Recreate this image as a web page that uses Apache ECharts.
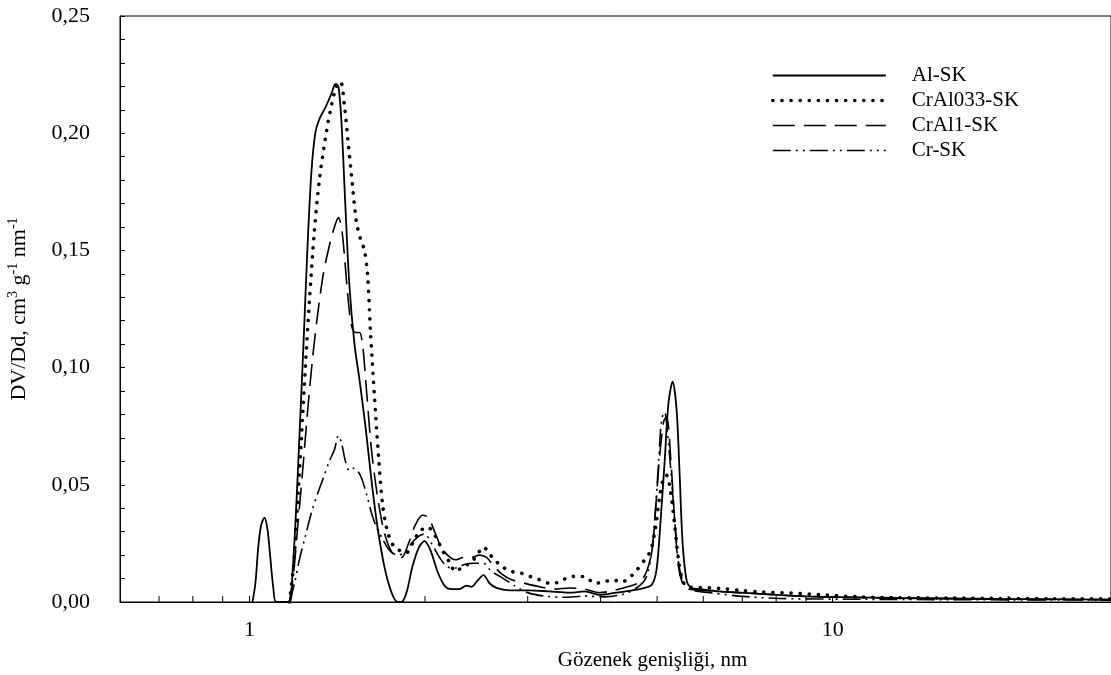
<!DOCTYPE html>
<html>
<head>
<meta charset="utf-8">
<script src="https://cdn.jsdelivr.net/npm/echarts@6/dist/echarts.min.js"></script>
<style>
  html, body { margin: 0; padding: 0; background: #fff; }
  #chart { width: 1111px; height: 675px; }
</style>
</head>
<body>
<div id="chart"></div>
<script>
// gözenek boyut dağılımı, [nm, DV/Dd]
const alSk = [
  [1.012, 0], [1.024, 0.008], [1.036, 0.024], [1.048, 0.033], [1.061, 0.036], [1.074, 0.031],
  [1.086, 0.019], [1.099, 0.006], [1.112, 0], [1.171, 0], [1.185, 0.012], [1.200, 0.035],
  [1.218, 0.070], [1.238, 0.110], [1.257, 0.150], [1.277, 0.183], [1.297, 0.200], [1.318, 0.206],
  [1.350, 0.211], [1.383, 0.217], [1.405, 0.221], [1.421, 0.220], [1.438, 0.205], [1.460, 0.170],
  [1.484, 0.135], [1.514, 0.110], [1.544, 0.095], [1.581, 0.075], [1.619, 0.052], [1.658, 0.032],
  [1.704, 0.015], [1.753, 0.004], [1.795, 0], [1.823, 0], [1.859, 0.004], [1.903, 0.015],
  [1.950, 0.023], [1.996, 0.026], [2.044, 0.022], [2.101, 0.013], [2.160, 0.007], [2.221, 0.0055],
  [2.292, 0.0055], [2.355, 0.007], [2.401, 0.0065], [2.458, 0.009], [2.520, 0.0115], [2.580, 0.008],
  [2.652, 0.006], [2.792, 0.005], [3.022, 0.005], [3.270, 0.0045], [3.539, 0.004], [3.755, 0.0045],
  [3.984, 0.003], [4.261, 0.004], [4.534, 0.005], [4.761, 0.006], [4.900, 0.0075], [4.990, 0.014],
  [5.070, 0.035], [5.151, 0.060], [5.230, 0.085], [5.316, 0.094], [5.400, 0.082], [5.464, 0.055],
  [5.530, 0.025], [5.620, 0.009], [5.730, 0.006], [5.914, 0.0055], [6.400, 0.0045], [6.926, 0.004],
  [7.496, 0.0035], [8.778, 0.0025], [10.69, 0.002], [13.03, 0.0017], [15.88, 0.0015], [19.34, 0.0013],
  [23.56, 0.0012], [30, 0.001]
];
const crAl033Sk = [
  [1.171, 0], [1.190, 0.015], [1.208, 0.040], [1.228, 0.070], [1.247, 0.100], [1.267, 0.128],
  [1.292, 0.158], [1.318, 0.180], [1.350, 0.198], [1.383, 0.212], [1.410, 0.220], [1.433, 0.222],
  [1.455, 0.212], [1.478, 0.195], [1.502, 0.178], [1.526, 0.162], [1.550, 0.155], [1.575, 0.150],
  [1.594, 0.140], [1.613, 0.115], [1.638, 0.088], [1.665, 0.062], [1.691, 0.042], [1.725, 0.030],
  [1.766, 0.024], [1.809, 0.022], [1.859, 0.021], [1.904, 0.025], [1.957, 0.030], [2.020, 0.032],
  [2.085, 0.028], [2.143, 0.022], [2.203, 0.017], [2.256, 0.013], [2.320, 0.015], [2.403, 0.017],
  [2.470, 0.021], [2.520, 0.0235], [2.570, 0.021], [2.632, 0.018], [2.716, 0.015], [2.815, 0.013],
  [2.905, 0.0125], [3.022, 0.011], [3.143, 0.0095], [3.270, 0.008], [3.402, 0.0085], [3.511, 0.0105],
  [3.652, 0.011], [3.785, 0.0105], [3.906, 0.008], [4.049, 0.0085], [4.196, 0.0095], [4.346, 0.0085],
  [4.485, 0.0105], [4.611, 0.0135], [4.761, 0.018], [4.875, 0.022], [4.971, 0.032], [5.050, 0.045],
  [5.131, 0.053], [5.192, 0.054], [5.274, 0.047], [5.358, 0.033], [5.442, 0.018], [5.530, 0.009],
  [5.640, 0.0065], [5.914, 0.0062], [6.400, 0.0058], [6.926, 0.005], [7.496, 0.0043], [8.44, 0.0038],
  [9.69, 0.003], [11.1, 0.0022], [13.03, 0.0018], [15.88, 0.0017], [19.34, 0.0015], [23.56, 0.0014],
  [30, 0.0013]
];
const crAl1Sk = [
  [1.171, 0], [1.190, 0.012], [1.208, 0.030], [1.233, 0.055], [1.257, 0.080], [1.282, 0.103],
  [1.308, 0.122], [1.339, 0.140], [1.371, 0.152], [1.399, 0.160], [1.421, 0.164], [1.438, 0.160],
  [1.455, 0.148], [1.473, 0.132], [1.496, 0.118], [1.520, 0.115], [1.544, 0.115], [1.563, 0.110],
  [1.588, 0.090], [1.619, 0.065], [1.658, 0.045], [1.698, 0.031], [1.739, 0.023], [1.780, 0.0195],
  [1.823, 0.019], [1.874, 0.025], [1.926, 0.033], [1.981, 0.037], [2.028, 0.036], [2.077, 0.030],
  [2.127, 0.024], [2.186, 0.020], [2.256, 0.018], [2.328, 0.019], [2.403, 0.019], [2.480, 0.020],
  [2.550, 0.019], [2.621, 0.0155], [2.706, 0.012], [2.815, 0.0095], [2.963, 0.008], [3.143, 0.0065],
  [3.336, 0.0055], [3.539, 0.006], [3.755, 0.0055], [3.984, 0.004], [4.228, 0.005], [4.450, 0.0065],
  [4.667, 0.0085], [4.797, 0.013], [4.900, 0.022], [4.971, 0.040], [5.050, 0.062], [5.131, 0.077],
  [5.192, 0.079], [5.274, 0.062], [5.358, 0.035], [5.442, 0.015], [5.552, 0.007], [5.685, 0.0055],
  [5.914, 0.005], [6.400, 0.0045], [6.926, 0.004], [7.496, 0.0035], [8.778, 0.0025], [10.69, 0.002],
  [13.03, 0.0017], [19.34, 0.0012], [30, 0.001]
];
const crSk = [
  [1.171, 0], [1.195, 0.008], [1.218, 0.018], [1.247, 0.028], [1.277, 0.038], [1.308, 0.046],
  [1.339, 0.053], [1.371, 0.060], [1.399, 0.065], [1.421, 0.071], [1.438, 0.068], [1.461, 0.060],
  [1.484, 0.056], [1.508, 0.057], [1.532, 0.056], [1.556, 0.053], [1.588, 0.046], [1.619, 0.038],
  [1.651, 0.032], [1.691, 0.027], [1.739, 0.022], [1.795, 0.020], [1.845, 0.021], [1.896, 0.025],
  [1.950, 0.028], [1.996, 0.029], [2.052, 0.025], [2.118, 0.019], [2.186, 0.015], [2.256, 0.0145],
  [2.337, 0.016], [2.431, 0.0165], [2.520, 0.0165], [2.601, 0.013], [2.706, 0.0105], [2.848, 0.007],
  [2.998, 0.004], [3.206, 0.0025], [3.470, 0.002], [3.755, 0.0025], [4.064, 0.0022], [4.397, 0.0035],
  [4.667, 0.007], [4.797, 0.011], [4.900, 0.022], [4.971, 0.040], [5.030, 0.060], [5.090, 0.078],
  [5.151, 0.081], [5.210, 0.072], [5.295, 0.052], [5.379, 0.030], [5.464, 0.014], [5.573, 0.0075],
  [5.730, 0.005], [6.152, 0.004], [6.926, 0.0025], [8.11, 0.0015], [10.69, 0.0012], [15.88, 0.001],
  [30, 0.0008]
];
const seriesNames = ['Al-SK', 'CrAl033-SK', 'CrAl1-SK', 'Cr-SK'];
const xMinorTicks = [0.7, 0.8, 0.9, 2, 3, 4, 5, 6, 7, 8, 9, 20];

const font = 'Liberation Serif, Times New Roman, serif';
const chart = echarts.init(document.getElementById('chart'));

// çizgi stilleri
const styles = {
  'Al-SK': { color: '#000', width: 1.8, type: 'solid' },
  'CrAl033-SK': { color: '#000', width: 3.6, type: [0.1, 9], cap: 'round' },
  'CrAl1-SK': { color: '#000', width: 1.6, type: [22, 9] },
  'Cr-SK': { color: '#000', width: 1.6, type: [18, 5, 2, 5, 2, 5] },
};

const lineSeries = (name, data) => ({
  name,
  type: 'line',
  data,
  symbol: 'none',
  smooth: 0.3,
  lineStyle: styles[name],
  itemStyle: { color: '#000' },
  z: 3,
});

const option = {
  backgroundColor: '#fff',
  animation: false,
  grid: {
    left: 120,
    right: 0,
    top: 16,
    bottom: 73,
    outerBoundsMode: 'none',
    containLabel: false,
    show: true,
    borderColor: '#000',
    borderWidth: 1,
  },
  legend: {
    data: seriesNames.map((n) => ({
      name: n,
      lineStyle: styles[n],
      itemStyle: { opacity: 0 },
    })),
    orient: 'vertical',
    left: 766,
    top: 60,
    itemWidth: 113,
    itemHeight: 14,
    itemGap: 4,
    textStyle: {
      fontFamily: font,
      fontSize: 21,
      color: '#000',
      padding: [0, 0, 0, 21],
    },
  },
  xAxis: {
    type: 'log',
    logBase: 10,
    min: 0.6,
    max: 30,
    name: 'Gözenek genişliği, nm',
    nameLocation: 'middle',
    nameGap: 48,
    nameTextStyle: { fontFamily: font, fontSize: 21, color: '#000', padding: [0, 0, 0, 74] },
    axisLine: { lineStyle: { color: '#000', width: 1 } },
    axisTick: { inside: true, length: 6, lineStyle: { color: '#000' } },
    axisLabel: {
      fontFamily: font,
      fontSize: 22,
      color: '#000',
      margin: 17,
      showMinLabel: false,
      showMaxLabel: false,
    },
    splitLine: { show: false },
  },
  yAxis: {
    type: 'value',
    min: 0,
    max: 0.25,
    interval: 0.05,
    name: '{b|DV/Dd, cm}{s|3}{b| g}{s|-1}{b| nm}{s|-1}',
    nameLocation: 'middle',
    nameGap: 88,
    nameTextStyle: {
      color: '#000',
      rich: {
        b: { fontFamily: font, fontSize: 22, color: '#000', lineHeight: 26 },
        s: { fontFamily: font, fontSize: 14, color: '#000', verticalAlign: 'top', lineHeight: 26 },
      },
    },
    axisLine: { show: true, lineStyle: { color: '#000', width: 1 } },
    axisTick: { show: true, inside: true, length: 5, lineStyle: { color: '#000' } },
    minorTick: { show: true, splitNumber: 5, length: 5, lineStyle: { color: '#000' } },
    axisLabel: {
      fontFamily: font,
      fontSize: 22,
      color: '#000',
      margin: 30,
      formatter: (v) => v.toFixed(2).replace('.', ','),
    },
    splitLine: { show: false },
  },
  series: [
    lineSeries('Al-SK', alSk),
    lineSeries('CrAl033-SK', crAl033Sk),
    lineSeries('CrAl1-SK', crAl1Sk),
    lineSeries('Cr-SK', crSk),
    {
      // ara çentikler (log eksen)
      type: 'custom',
      silent: true,
      data: xMinorTicks.map((v) => [v, 0]),
      encode: { x: 0, y: 1 },
      renderItem: (params, api) => {
        const p = api.coord([api.value(0), api.value(1)]);
        return {
          type: 'line',
          shape: { x1: p[0], y1: p[1], x2: p[0], y2: p[1] - 6 },
          style: { stroke: '#000', lineWidth: 1 },
        };
      },
      z: 2,
    },
  ],
};

chart.setOption(option);
</script>
</body>
</html>
